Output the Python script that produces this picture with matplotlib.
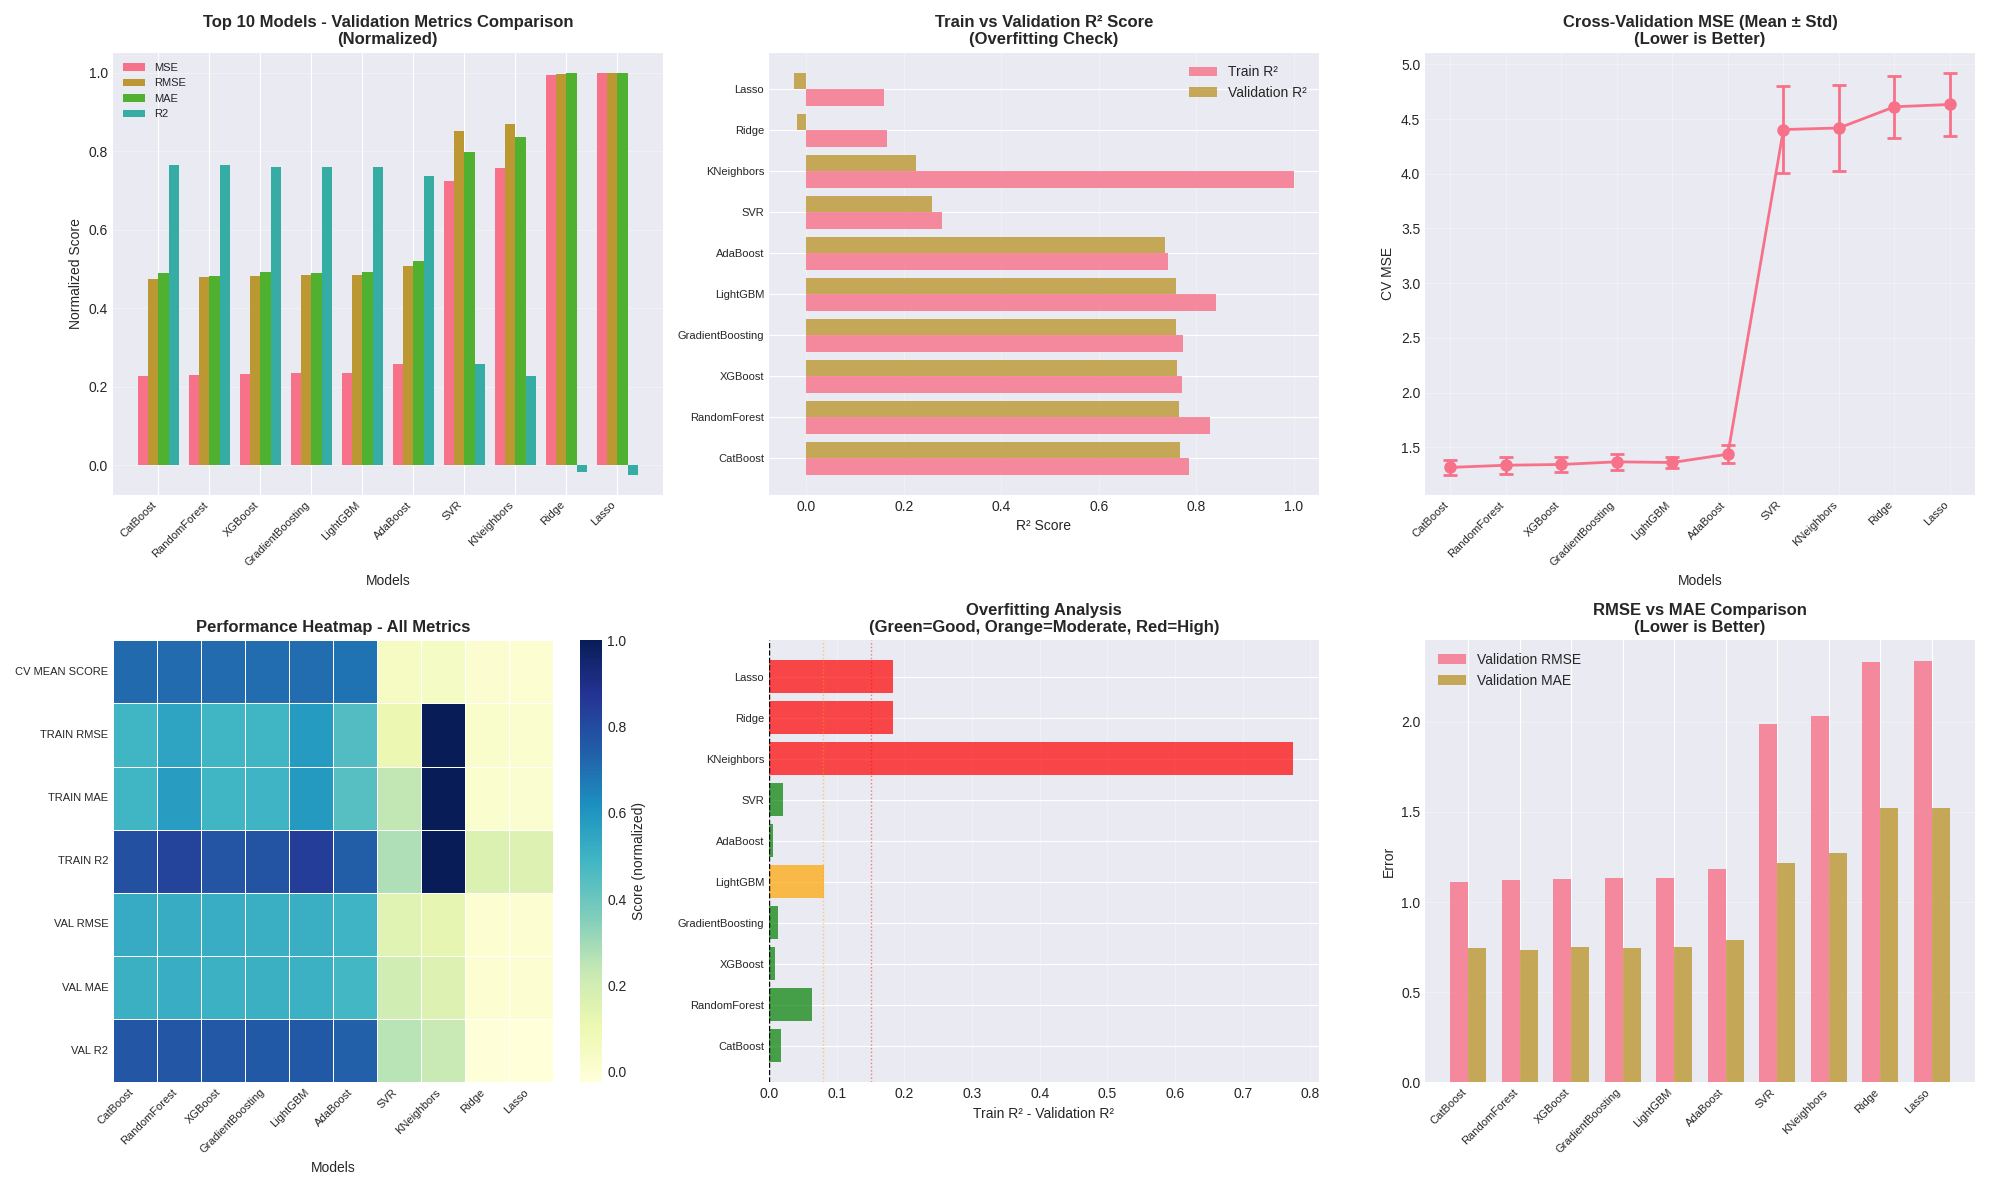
import matplotlib
matplotlib.use('Agg')
import matplotlib.pyplot as plt
import numpy as np
import pandas as pd
import seaborn as sns

plt.style.use('seaborn-v0_8-darkgrid')
sns.set_palette('husl')
plt.rcParams['font.family'] = ['Liberation Sans', 'DejaVu Sans']

# Моделі (відсортовані за CV MSE)
models = ['CatBoost', 'RandomForest', 'XGBoost', 'GradientBoosting', 'LightGBM',
          'AdaBoost', 'SVR', 'KNeighbors', 'Ridge', 'Lasso']

# Валідаційні метрики
val_rmse = [1.111, 1.122, 1.128, 1.134, 1.134, 1.183, 1.989, 2.034, 2.330, 2.336]
val_mae = [0.744, 0.733, 0.750, 0.744, 0.750, 0.792, 1.216, 1.275, 1.523, 1.523]
val_r2 = [0.766, 0.764, 0.761, 0.759, 0.759, 0.736, 0.258, 0.226, -0.0185, -0.0247]
train_r2 = [0.784, 0.827, 0.770, 0.772, 0.840, 0.742, 0.278, 1.000, 0.165, 0.159]

# Крос-валідація
cv_mean = [1.317, 1.337, 1.344, 1.368, 1.362, 1.438, 4.404, 4.418, 4.612, 4.633]
cv_std = [0.067, 0.078, 0.072, 0.075, 0.052, 0.083, 0.398, 0.391, 0.282, 0.289]

# Нормовані тренувальні помилки (для теплової карти)
train_rmse_score = [0.49, 0.555, 0.49, 0.49, 0.58, 0.455, 0.11, 1.0, 0.02, 0.015]
train_mae_score = [0.49, 0.575, 0.49, 0.495, 0.585, 0.44, 0.24, 1.0, 0.012, 0.01]

val_rmse = np.array(val_rmse)
val_mae = np.array(val_mae)
val_r2 = np.array(val_r2)
train_r2 = np.array(train_r2)
cv_mean = np.array(cv_mean)
val_mse = val_rmse ** 2

fig, axes = plt.subplots(2, 3, figsize=(19.9, 11.9), dpi=100)
x = np.arange(len(models))

# 1. Нормовані метрики
ax = axes[0, 0]
w = 0.2
ax.bar(x - 1.5 * w, val_mse / val_mse.max(), w, label='MSE')
ax.bar(x - 0.5 * w, val_rmse / val_rmse.max(), w, label='RMSE')
ax.bar(x + 0.5 * w, val_mae / val_mae.max(), w, label='MAE')
ax.bar(x + 1.5 * w, val_r2, w, label='R2')
ax.set_xticks(x)
ax.set_xticklabels(models, rotation=45, ha='right', fontsize=8)
ax.set_xlabel('Models')
ax.set_ylabel('Normalized Score')
ax.set_title('Top 10 Models - Validation Metrics Comparison\n(Normalized)', fontsize=12, fontweight='bold')
ax.legend(fontsize=8, loc='upper left')
ax.grid(True, axis='y', alpha=0.3)

# 2. Train vs Validation R²
ax = axes[0, 1]
h = 0.4
ax.barh(x - h / 2, train_r2, h, label='Train R²', alpha=0.8)
ax.barh(x + h / 2, val_r2, h, label='Validation R²', alpha=0.8)
ax.set_yticks(x)
ax.set_yticklabels(models, fontsize=8)
ax.set_xlabel('R² Score')
ax.set_title('Train vs Validation R² Score\n(Overfitting Check)', fontsize=12, fontweight='bold')
ax.legend()
ax.grid(True, axis='x', alpha=0.3)

# 3. CV MSE
ax = axes[0, 2]
ax.errorbar(x, cv_mean, yerr=cv_std, marker='o', capsize=5, capthick=2,
            linewidth=2, markersize=8)
ax.set_xticks(x)
ax.set_xticklabels(models, rotation=45, ha='right', fontsize=8)
ax.set_xlabel('Models')
ax.set_ylabel('CV MSE')
ax.set_title('Cross-Validation MSE (Mean ± Std)\n(Lower is Better)', fontsize=12, fontweight='bold')
ax.grid(True, alpha=0.3)

# 4. Теплова карта
ax = axes[1, 0]
heat = pd.DataFrame({
    'CV MEAN SCORE': 1 - cv_mean / cv_mean.max(),
    'TRAIN RMSE': train_rmse_score,
    'TRAIN MAE': train_mae_score,
    'TRAIN R2': train_r2,
    'VAL RMSE': 1 - val_rmse / val_rmse.max(),
    'VAL MAE': 1 - val_mae / val_mae.max(),
    'VAL R2': val_r2,
}, index=models).T
sns.heatmap(heat, ax=ax, cmap='YlGnBu', linewidths=0.5, linecolor='white',
            cbar_kws={'label': 'Score (normalized)'})
ax.set_xticklabels(models, rotation=45, ha='right', fontsize=8)
ax.set_yticklabels(heat.index, rotation=0, fontsize=8)
ax.set_xlabel('Models')
ax.set_title('Performance Heatmap - All Metrics', fontsize=12, fontweight='bold')

# 5. Аналіз перенавчання
ax = axes[1, 1]
gap = train_r2 - val_r2
colors = ['red' if g > 0.15 else 'orange' if g > 0.08 else 'green' for g in gap]
ax.barh(x, gap, color=colors, alpha=0.7)
ax.axvline(x=0, color='black', linestyle='--', linewidth=1)
ax.axvline(x=0.08, color='orange', linestyle=':', linewidth=1, alpha=0.5)
ax.axvline(x=0.15, color='red', linestyle=':', linewidth=1, alpha=0.5)
ax.set_yticks(x)
ax.set_yticklabels(models, fontsize=8)
ax.set_xlabel('Train R² - Validation R²')
ax.set_title('Overfitting Analysis\n(Green=Good, Orange=Moderate, Red=High)', fontsize=12, fontweight='bold')
ax.grid(True, axis='x', alpha=0.3)

# 6. RMSE vs MAE
ax = axes[1, 2]
w = 0.35
ax.bar(x - w / 2, val_rmse, w, label='Validation RMSE', alpha=0.8)
ax.bar(x + w / 2, val_mae, w, label='Validation MAE', alpha=0.8)
ax.set_xticks(x)
ax.set_xticklabels(models, rotation=45, ha='right', fontsize=8)
ax.set_ylabel('Error')
ax.set_title('RMSE vs MAE Comparison\n(Lower is Better)', fontsize=12, fontweight='bold')
ax.legend(loc='upper left')
ax.grid(True, axis='y', alpha=0.3)

plt.tight_layout()
plt.savefig('out.png', dpi=100)
